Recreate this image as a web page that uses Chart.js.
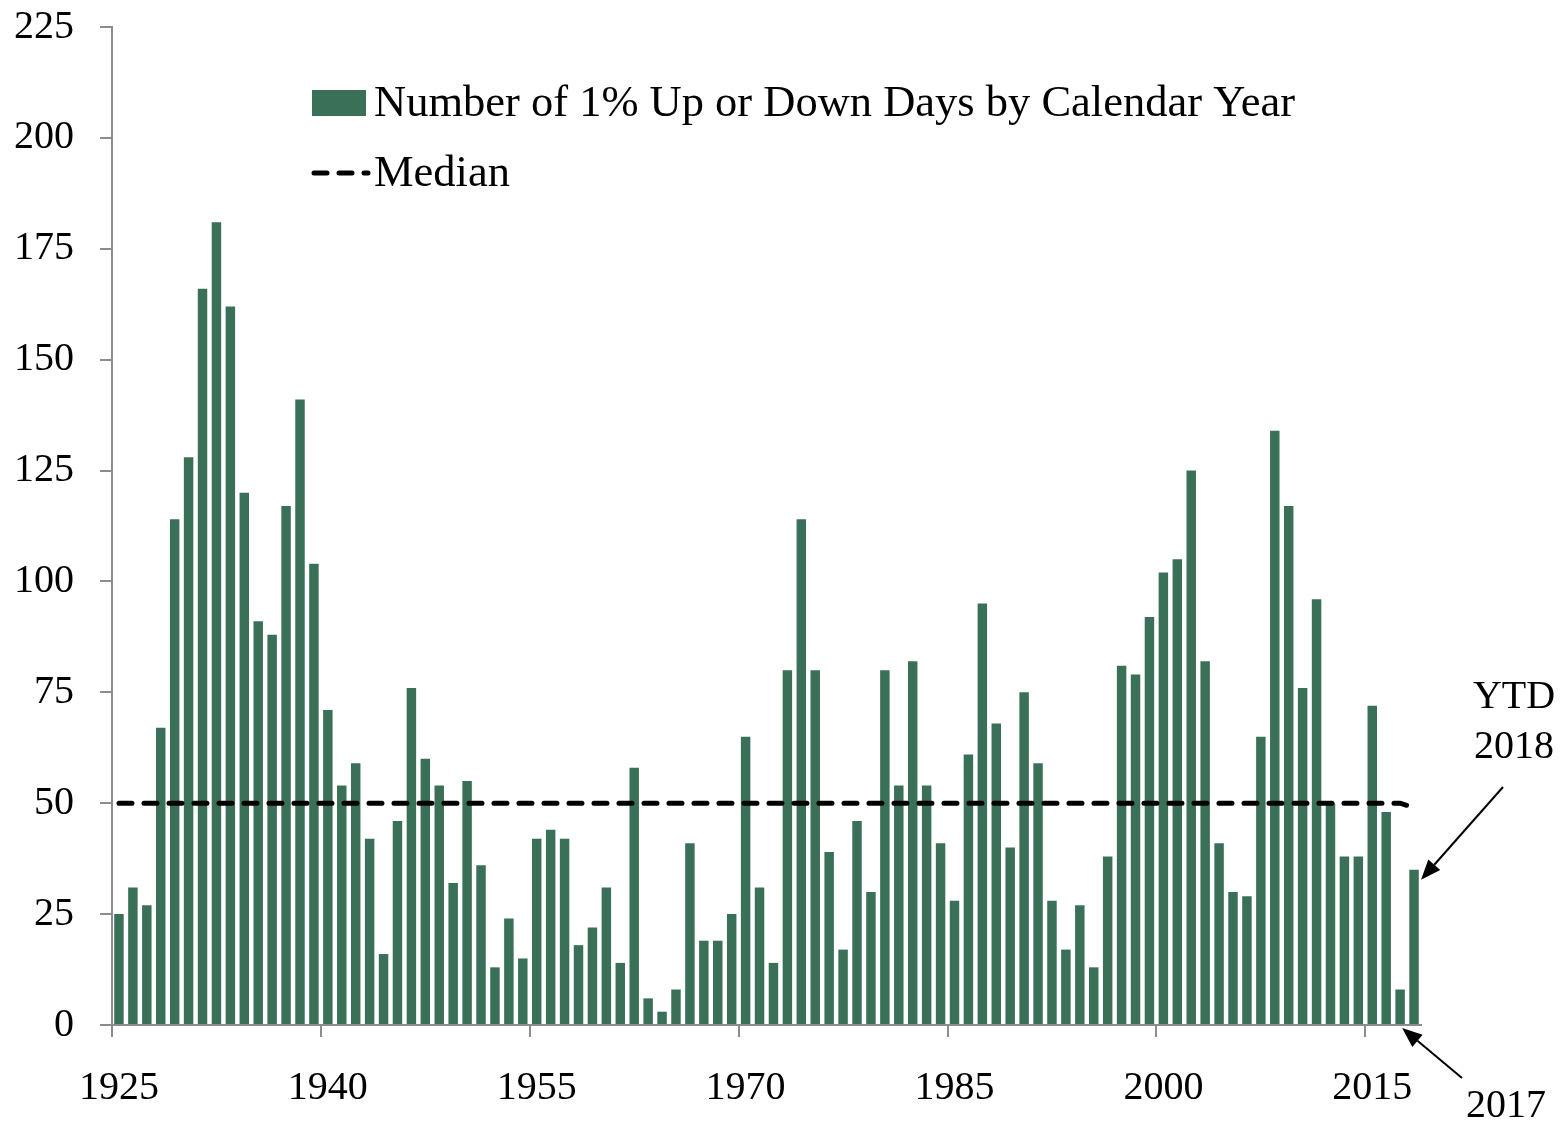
<!DOCTYPE html>
<html>
<head>
<meta charset="utf-8">
<script src="https://cdn.jsdelivr.net/npm/chart.js@4.4.1/dist/chart.umd.min.js"></script>
<style>
  html, body { margin: 0; padding: 0; background: #fff; }
  #wrap { width: 1562px; height: 1122px; position: relative; }
</style>
</head>
<body>
<div id="wrap"><canvas id="chart"></canvas></div>
<script>
const years = [
  '1925','1926','1927','1928','1929','1930','1931','1932','1933','1934',
  '1935','1936','1937','1938','1939','1940','1941','1942','1943','1944',
  '1945','1946','1947','1948','1949','1950','1951','1952','1953','1954',
  '1955','1956','1957','1958','1959','1960','1961','1962','1963','1964',
  '1965','1966','1967','1968','1969','1970','1971','1972','1973','1974',
  '1975','1976','1977','1978','1979','1980','1981','1982','1983','1984',
  '1985','1986','1987','1988','1989','1990','1991','1992','1993','1994',
  '1995','1996','1997','1998','1999','2000','2001','2002','2003','2004',
  '2005','2006','2007','2008','2009','2010','2011','2012','2013','2014',
  '2015','2016','2017','2018'
];

const bigMoveDays = [
  25, 31, 27, 67, 114, 128, 166, 181, 162, 120,
  91, 88, 117, 141, 104, 71, 54, 59, 42, 16,
  46, 76, 60, 54, 32, 55, 36, 13, 24, 15,
  42, 44, 42, 18, 22, 31, 14, 58, 6, 3,
  8, 41, 19, 19, 25, 65, 31, 14, 80, 114,
  80, 39, 17, 46, 30, 80, 54, 82, 54, 41,
  28, 61, 95, 68, 40, 75, 59, 28, 17, 27,
  13, 38, 81, 79, 92, 102, 105, 125, 82, 41,
  30, 29, 65, 134, 117, 76, 96, 50, 38, 38,
  72, 48, 8, 35
];

const median = [
  50, 50, 50, 50, 50, 50, 50, 50, 50, 50,
  50, 50, 50, 50, 50, 50, 50, 50, 50, 50,
  50, 50, 50, 50, 50, 50, 50, 50, 50, 50,
  50, 50, 50, 50, 50, 50, 50, 50, 50, 50,
  50, 50, 50, 50, 50, 50, 50, 50, 50, 50,
  50, 50, 50, 50, 50, 50, 50, 50, 50, 50,
  50, 50, 50, 50, 50, 50, 50, 50, 50, 50,
  50, 50, 50, 50, 50, 50, 50, 50, 50, 50,
  50, 50, 50, 50, 50, 50, 50, 50, 50, 50,
  50, 50, 50, 49
];

const shownYears = ['1925', '1940', '1955', '1970', '1985', '2000', '2015'];

const barColor = '#3b7058';
const axisColor = '#8c8c8c';
const serif = "'Liberation Serif', 'DejaVu Serif', serif";

// legend + arrows drawn by hand
const extras = {
  id: 'extras',
  afterDraw(chart) {
    const c = chart.ctx;
    const xs = chart.scales.x;
    const ys = chart.scales.y;
    c.save();

    c.fillStyle = barColor;
    c.fillRect(312, 90, 54, 26);
    c.strokeStyle = '#000';
    c.lineWidth = 5;
    c.lineCap = 'round';
    c.setLineDash([13, 12]);
    c.beginPath();
    c.moveTo(314, 173);
    c.lineTo(368, 173);
    c.stroke();
    c.setLineDash([]);

    c.fillStyle = '#000';
    c.font = '44.5px ' + serif;
    c.textBaseline = 'middle';
    c.textAlign = 'left';
    c.fillText('Number of 1% Up or Down Days by Calendar Year', 374, 104);
    c.fillText('Median', 374, 174);

    c.font = '40px ' + serif;
    c.textAlign = 'center';
    c.fillText('YTD', 1514, 697);
    c.fillText('2018', 1514, 747);
    c.fillText('2017', 1506, 1106);

    const last = years.length - 1;
    const tip18 = { x: xs.getPixelForValue(last) + 7, y: ys.getPixelForValue(bigMoveDays[last]) + 10 };
    arrow(c, 1503, 787, tip18.x, tip18.y);
    const tip17 = { x: xs.getPixelForValue(last - 1) + 2, y: ys.getPixelForValue(0) + 3 };
    arrow(c, 1462, 1078, tip17.x, tip17.y);

    c.restore();
  }
};

function arrow(c, x1, y1, x2, y2) {
  const ang = Math.atan2(y2 - y1, x2 - x1);
  const len = 20, half = 8;
  const bx = x2 - len * Math.cos(ang);
  const by = y2 - len * Math.sin(ang);
  c.strokeStyle = '#000';
  c.lineWidth = 2;
  c.lineCap = 'butt';
  c.beginPath();
  c.moveTo(x1, y1);
  c.lineTo(bx, by);
  c.stroke();
  c.beginPath();
  c.moveTo(x2, y2);
  c.lineTo(bx + half * Math.sin(ang), by - half * Math.cos(ang));
  c.lineTo(bx - half * Math.sin(ang), by + half * Math.cos(ang));
  c.closePath();
  c.fill();
}

new Chart(document.getElementById('chart'), {
  type: 'bar',
  data: {
    labels: years,
    datasets: [
      {
        type: 'line',
        label: 'Median',
        data: median,
        borderColor: '#000',
        borderWidth: 5,
        borderDash: [13, 12],
        borderCapStyle: 'round',
        pointRadius: 0,
        fill: false,
        tension: 0,
        order: 0
      },
      {
        label: 'Number of 1% Up or Down Days by Calendar Year',
        data: bigMoveDays,
        backgroundColor: barColor,
        borderWidth: 0,
        categoryPercentage: 1,
        barPercentage: 0.68,
        order: 1
      }
    ]
  },
  options: {
    responsive: true,
    maintainAspectRatio: false,
    animation: false,
    layout: { padding: { top: 27, right: 141, left: 0, bottom: 0 } },
    plugins: {
      legend: { display: false },
      tooltip: { enabled: false }
    },
    scales: {
      x: {
        offset: true,
        afterFit: (s) => { s.height = 97; s.paddingLeft = 0; s.paddingRight = 0; },
        border: { color: axisColor, width: 2 },
        grid: {
          offset: true,
          drawOnChartArea: false,
          drawTicks: true,
          tickLength: 12,
          lineWidth: 2,
          color: (ctx) => (ctx.index % 15 === 0 ? axisColor : 'rgba(0,0,0,0)')
        },
        ticks: {
          autoSkip: false,
          maxRotation: 0,
          padding: 27,
          color: '#000',
          font: { family: serif, size: 40 },
          callback: function (val) {
            const lab = this.getLabelForValue(val);
            return shownYears.includes(lab) ? lab : '';
          }
        }
      },
      y: {
        min: 0,
        max: 225,
        afterFit: (s) => { s.width = 112; s.paddingTop = 0; s.paddingBottom = 0; },
        border: { color: axisColor, width: 2 },
        grid: {
          drawOnChartArea: false,
          drawTicks: true,
          tickLength: 12,
          lineWidth: 2,
          color: axisColor
        },
        ticks: {
          stepSize: 25,
          padding: 26,
          color: '#000',
          font: { family: serif, size: 40 }
        }
      }
    }
  },
  plugins: [extras]
});
</script>
</body>
</html>
